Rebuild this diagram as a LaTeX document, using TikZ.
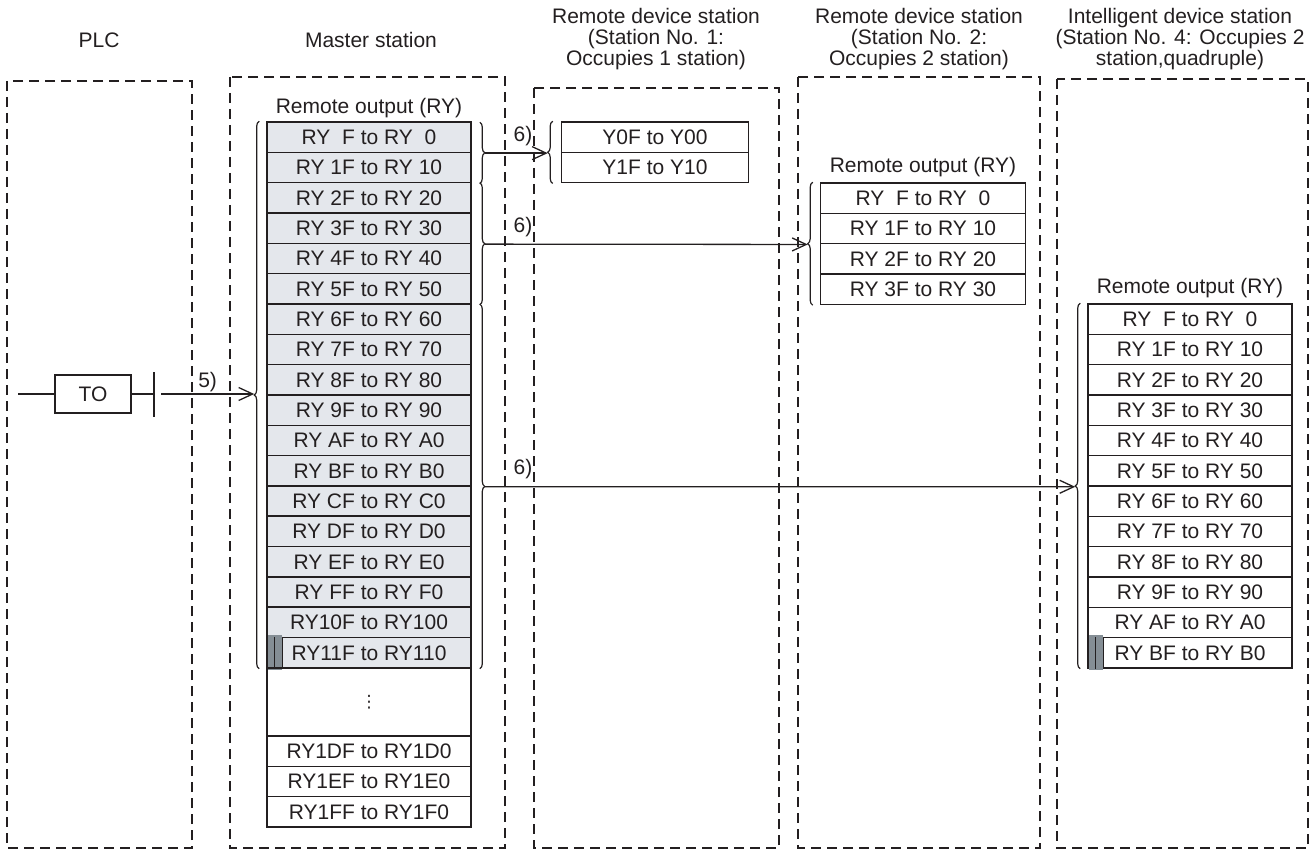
\documentclass[tikz,border=0pt]{standalone}
\usepackage{fontspec}
\setmainfont{Liberation Sans}
\newfontfamily\rmsymbols{DejaVu Sans}
\usetikzlibrary{arrows.meta,positioning,calc,decorations.pathreplacing}
\definecolor{rmink}{HTML}{231F20}
\definecolor{rmcell}{HTML}{E4E7EC}
\definecolor{rmmark}{HTML}{858E95}
\newcommand{\rmtext}{\fontsize{21}{21}\selectfont}
\tikzset{
  stationbox/.style={draw=rmink,line width=1.8pt,dash pattern=on 10pt off 6pt},
  hdr/.style={align=center,inner sep=0pt,text=rmink,font=\rmtext},
  rowcell/.style={draw=rmink,line width=1.6pt,minimum height=30.33pt,inner sep=0pt,text=rmink,font=\rmtext},
  rmbrace/.style={decorate,decoration={brace,amplitude=5pt},draw=rmink,line width=1.2pt},
  rmarrow/.style={-{Straight Barb[length=14pt,width=13pt]},draw=rmink,line width=1.3pt},
  steplbl/.style={inner sep=2pt,text=rmink,font=\rmtext}
}
\begin{document}
\begin{tikzpicture}[x=1pt,y=-1pt]
  \useasboundingbox (0,0) rectangle (1313,850);
  % station frames
  \draw[stationbox] (7,81) rectangle (192,848);
  \draw[stationbox] (230,77) rectangle (505,848);
  \draw[stationbox] (534,88) rectangle (779,848);
  \draw[stationbox] (798,77) rectangle (1040,848);
  \draw[stationbox] (1057,79) rectangle (1308,848);
  % headers
  \node[hdr] (hplc) at (99,40) {PLC};
  \node[hdr] (hmst) at (371,40) {Master station};
  \node[hdr] (hrd1) at (656,39) {Remote device station\\(Station No. 1:\\Occupies 1 station)};
  \node[hdr] (hrd2) at (919,39) {Remote device station\\(Station No. 2:\\Occupies 2 station)};
  \node[hdr] (hint) at (1180,39) {Intelligent device station\\(Station No. 4: Occupies 2\\station,quadruple)};

  % master station: remote output
  \node[hdr] (mlbl) at (369,108) {Remote output (RY)};
  \foreach \d [count=\k from 0] in {{\ },1,2,3,4,5,6,7,8,9,A,B,C,D,E,F}
    \node[rowcell,fill=rmcell,minimum width=204pt] (m\k) at (369,{122+(\k+0.5)*30.33}) {RY \d F to RY \d 0};
  \node[rowcell,fill=rmcell,minimum width=204pt] (m16) at (369,{122+16.5*30.33}) {RY10F to RY100};
  \node[rowcell,fill=rmcell,minimum width=204pt] (m17) at (369,{122+17.5*30.33}) {RY11F to RY110};
  \fill[rmmark] ($(m17.north west)+(1.6,-1.6)$) rectangle ($(m17.south west)+(16,1.6)$);
  \draw[rmink,line width=1.4pt] ($(m17.north west)+(8,0)$) -- ($(m17.south west)+(8,0)$);
  \draw[rmink,line width=1.4pt] ($(m17.north west)+(16,0)$) -- ($(m17.south west)+(16,0)$);
  \node[rowcell,minimum width=204pt,minimum height=68pt] (mdots) at (369,702) {\rmsymbols\fontsize{17}{17}\selectfont ⋮};
  \node[rowcell,minimum width=204pt] (m18) at (369,{736+0.5*30.33}) {RY1DF to RY1D0};
  \node[rowcell,minimum width=204pt] (m19) at (369,{736+1.5*30.33}) {RY1EF to RY1E0};
  \node[rowcell,minimum width=204pt] (m20) at (369,{736+2.5*30.33}) {RY1FF to RY1F0};

  % remote device station 1
  \node[rowcell,minimum width=187pt] (r0) at (655,{122+0.5*30.33}) {Y0F to Y00};
  \node[rowcell,minimum width=187pt] (r1) at (655,{122+1.5*30.33}) {Y1F to Y10};

  % remote device station 2
  \node[hdr] (slbl) at (923,167) {Remote output (RY)};
  \foreach \d [count=\k from 0] in {{\ },1,2,3}
    \node[rowcell,minimum width=205pt] (s\k) at (923,{183+(\k+0.5)*30.33}) {RY \d F to RY \d 0};

  % intelligent device station
  \node[hdr] (tlbl) at (1190,288) {Remote output (RY)};
  \foreach \d [count=\k from 0] in {{\ },1,2,3,4,5,6,7,8,9,A,B}
    \node[rowcell,minimum width=204pt] (t\k) at (1190,{304+(\k+0.5)*30.33}) {RY \d F to RY \d 0};
  \fill[rmmark] ($(t11.north west)+(1.6,-1.6)$) rectangle ($(t11.south west)+(16,1.6)$);
  \draw[rmink,line width=1.4pt] ($(t11.north west)+(8,0)$) -- ($(t11.south west)+(8,0)$);
  \draw[rmink,line width=1.4pt] ($(t11.north west)+(16,0)$) -- ($(t11.south west)+(16,0)$);

  % braces
  \draw[rmbrace] ($(m17.south west)+(-7,0)$) -- ($(m0.north west)+(-7,0)$);
  \draw[rmbrace] ($(m0.north east)+(8,1)$) -- ($(m1.south east)+(8,0)$);
  \draw[rmbrace] ($(m2.north east)+(8,1)$) -- ($(m5.south east)+(8,0)$);
  \draw[rmbrace] ($(m6.north east)+(8,1)$) -- ($(m17.south east)+(8,0)$);
  \draw[rmbrace] ($(r1.south west)+(-8,0)$) -- ($(r0.north west)+(-8,0)$);
  \draw[rmbrace] ($(s3.south west)+(-7,0)$) -- ($(s0.north west)+(-7,0)$);
  \draw[rmbrace] ($(t11.south west)+(-7,0)$) -- ($(t0.north west)+(-7,0)$);
  \coordinate (bm)  at ($(m8.south west)+(-12,0)$);
  \coordinate (bo1) at ($(m0.south east)+(13,0)$);
  \coordinate (bo2) at ($(m3.south east)+(13,0)$);
  \coordinate (bo3) at ($(m11.south east)+(13,0)$);
  \coordinate (br1) at ($(r0.south west)+(-13,0)$);
  \coordinate (bs)  at ($(s1.south west)+(-12,0)$);
  \coordinate (bt)  at ($(t5.south west)+(-12,0)$);

  % PLC contact
  \node[rowcell,minimum width=76pt,minimum height=38pt] (to) at (93,394) {TO};
  \coordinate (plcin) at (18,394);
  \coordinate (bartop) at (154,372);
  \coordinate (barbot) at (154,417);
  \coordinate (barout) at (161,394);
  \draw[rmink,line width=1.3pt] (plcin) -- (to.west);
  \draw[rmink,line width=1.3pt] (to.east) -- (bartop |- to.east);
  \draw[rmink,line width=1.6pt] (bartop) -- (barbot);
  \draw[rmarrow] (barout) -- (bm |- barout) node[midway,above,steplbl] {5)};

  % transfers
  \draw[rmarrow] (bo1) -- (br1);
  \draw[rmarrow] (bo2) -- (bs);
  \draw[rmarrow] (bo3) -- (bt);
  \node[steplbl,anchor=south] (l1) at (523,148) {6)};
  \node[steplbl,anchor=south] (l2) at (523,239) {6)};
  \node[steplbl,anchor=south] (l3) at (523,481) {6)};
\end{tikzpicture}
\end{document}
